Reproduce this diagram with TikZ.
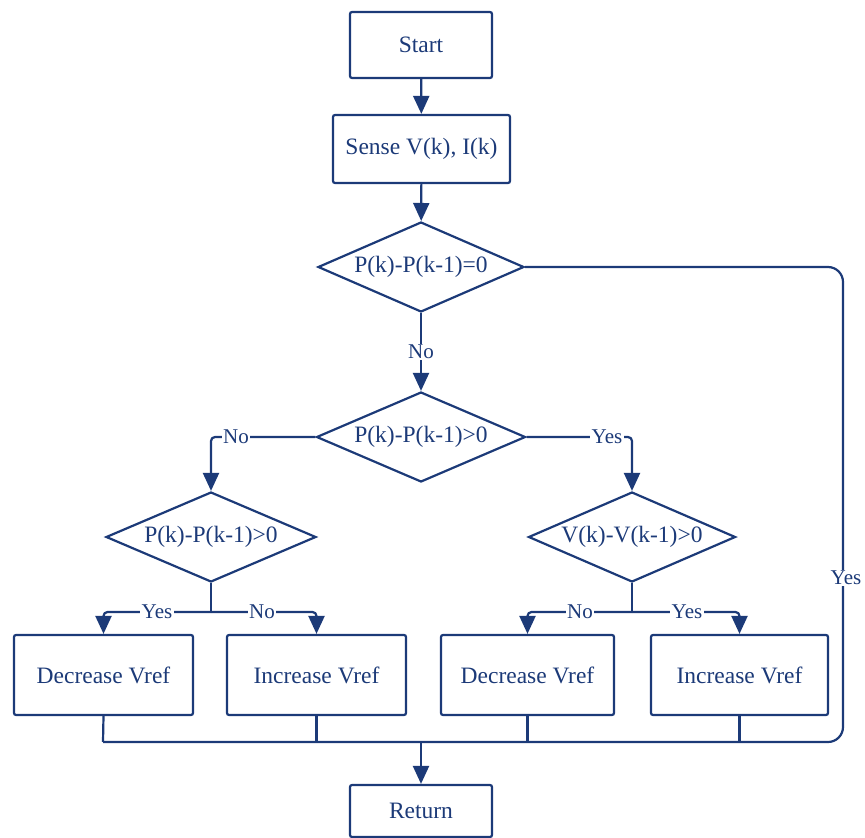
\documentclass[tikz,border=0pt]{standalone}
\usepackage{fontspec}
\setmainfont{Liberation Serif}
\usetikzlibrary{shapes.geometric,arrows.meta}
\definecolor{ink}{RGB}{28,58,120}
\begin{document}
\begin{tikzpicture}[x=1pt,y=-1pt,
  every node/.style={text=ink, font=\fontsize{23.5}{27}\selectfont},
  box/.style={draw=ink, line width=2.2pt, rectangle, rounded corners=2pt, inner sep=0pt},
  dec/.style={draw=ink, line width=2.2pt, diamond, inner sep=0pt, shape aspect=2.3,
              minimum width=206pt, minimum height=90pt},
  lbl/.style={fill=white, inner sep=1.5pt, font=\fontsize{21}{24}\selectfont},
  conn/.style={draw=ink, line width=2.2pt},
  arr/.style={conn, -{Triangle[length=18pt,width=16pt]}}]
\useasboundingbox (0,0) rectangle (865,838);

% nodes
\node[box, minimum width=142pt, minimum height=66pt] (start) at (421,45) {Start};
\node[box, minimum width=177pt, minimum height=68pt] (sense) at (421.5,149) {Sense V(k), I(k)};
\node[dec] (d1) at (421,267) {P(k)-P(k-1)=0};
\node[dec, minimum width=209pt] (d2) at (421,437) {P(k)-P(k-1)>0};
\node[dec, minimum width=210pt] (d3) at (211,537) {P(k)-P(k-1)>0};
\node[dec, minimum width=207pt] (d4) at (632,537) {V(k)-V(k-1)>0};
\node[box, minimum width=179pt, minimum height=80pt] (b1) at (103.5,675) {Decrease Vref};
\node[box, minimum width=179pt, minimum height=80pt] (b2) at (316.5,675) {Increase Vref};
\node[box, minimum width=173pt, minimum height=80pt] (b3) at (527.5,675) {Decrease Vref};
\node[box, minimum width=177pt, minimum height=80pt] (b4) at (739.5,675) {Increase Vref};
\node[box, minimum width=142pt, minimum height=52pt] (ret) at (421,811) {Return};

\coordinate (j3) at (211,612);
\coordinate (j4) at (632,612);
\coordinate (m) at (421,742);

% connectors
\draw[arr] (start) -- (sense);
\draw[arr] (sense) -- (d1);
\draw[arr] (d1) -- (d2);
\draw[arr, rounded corners=4pt] (d2.west) -| (d3.north);
\draw[arr, rounded corners=4pt] (d2.east) -| (d4.north);
\draw[conn] (d3.south) -- (j3);
\draw[arr, rounded corners=4pt] (j3) -| (b1.north);
\draw[arr, rounded corners=4pt] (j3) -| (b2.north);
\draw[conn] (d4.south) -- (j4);
\draw[arr, rounded corners=4pt] (j4) -| (b3.north);
\draw[arr, rounded corners=4pt] (j4) -| (b4.north);
\draw[conn, rounded corners=15pt] (d1.east) -- (843,267) -- (843,742) -- (103,742);
\draw[conn, rounded corners=4pt] (103,742) -- (b1.south);
\draw[conn] (b2.south) -- (b2.south |- m);
\draw[conn] (b3.south) -- (b3.south |- m);
\draw[conn] (b4.south) -- (b4.south |- m);
\draw[arr] (m) -- (ret.north);

% labels
\node[lbl] (l1) at (421,352) {No};
\node[lbl] (l2) at (236,437) {No};
\node[lbl] (l3) at (607,437) {Yes};
\node[lbl] (l4) at (157,612) {Yes};
\node[lbl] (l5) at (262,612) {No};
\node[lbl] (l6) at (580,612) {No};
\node[lbl] (l7) at (687,612) {Yes};
\node[lbl] (l8) at (846,578) {Yes};
\end{tikzpicture}
\end{document}
